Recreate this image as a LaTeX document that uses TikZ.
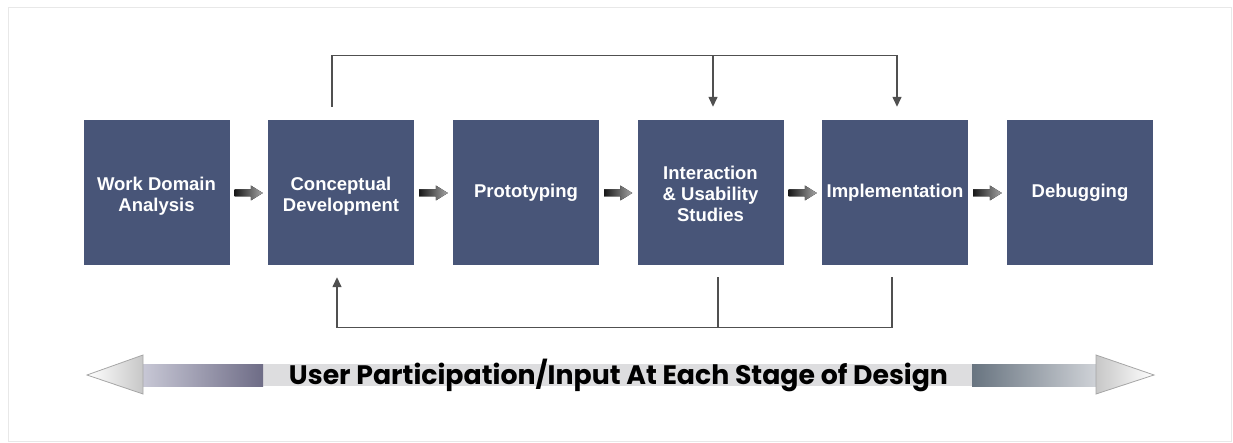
\documentclass[tikz,border=0pt]{standalone}
\usepackage{fontspec}
\setmainfont{Liberation Sans}
\newfontfamily\bigfont{Poppins}
\usetikzlibrary{arrows.meta,calc}
\definecolor{boxblue}{RGB}{72,85,120}
\definecolor{fbline}{RGB}{80,80,80}
\definecolor{bandgray}{RGB}{221,221,223}
\definecolor{leftlight}{RGB}{200,200,214}
\tikzset{
  stagebox/.style={fill=boxblue, draw=none, minimum width=146pt, minimum height=145pt,
    inner sep=0pt, text=white, align=center,
    font=\fontsize{18.5}{21}\selectfont\bfseries},
  fb/.style={draw=fbline, line width=1.4pt},
  fbarrow/.style={fb, -{Triangle[width=9pt,length=10pt]}},
  smallarrow/.style={left color=black!90, right color=black!35, draw=none},
}
\begin{document}
\begin{tikzpicture}[x=1pt,y=-1pt]
\useasboundingbox (0,0) rectangle (1233,443);
\draw[black!9, line width=1pt] (8,8) rectangle (1231,441);
% stage boxes
\node[stagebox] (b1) at (156.5,192.5) {\mbox{}\\[0pt]Work Domain\\Analysis};
\node[stagebox] (b2) at (341,192.5) {\mbox{}\\[0pt]Conceptual\\Development};
\node[stagebox] (b3) at (526,192.5) {Prototyping};
\node[stagebox] (b4) at (710.5,192.5) {\mbox{}\\[-4pt]Interaction\\\& Usability\\Studies};
\node[stagebox] (b5) at (895,192.5) {Implementation};
\node[stagebox] (b6) at (1080,192.5) {Debugging};
% small gradient arrows between boxes
\foreach \a/\b in {b1/b2,b2/b3,b3/b4,b4/b5,b5/b6}{
  \path ($(\a.east)+(5,0.5)$) coordinate (s) ($(\b.west)+(-5,0.5)$) coordinate (e);
  \fill[smallarrow] (s) ++(0,-3.5) -- ($(e)+(-12,-3.5)$) -- ($(e)+(-12,-7.5)$) -- (e)
     -- ($(e)+(-12,7.5)$) -- ($(e)+(-12,3.5)$) -- ($(s)+(0,3.5)$) -- cycle;
}
% feedback connectors
\coordinate (t0) at ($(b2.north)+(-9,-13)$);
\coordinate (tm) at ($(b4.north)+(2.5,-64)$);
\coordinate (t4) at ($(b4.north)+(2.5,-13)$);
\coordinate (t5) at ($(b5.north)+(2,-13)$);
\draw[fbarrow] (t0) |- (t5 |- tm) -- (t5);
\draw[fbarrow] (tm) -- (t4);
\coordinate (u4) at ($(b4.south)+(7.5,12)$);
\coordinate (u5) at ($(b5.south)+(-3,12)$);
\coordinate (u2) at ($(b2.south)+(-4,12)$);
\coordinate (ub) at ($(u5)+(0,50)$);
\draw[fbarrow] (u5) |- (u2 |- ub) -- (u2);
\draw[fb] (u4) -- (u4 |- ub);
% big double arrow
\fill[bandgray] (263,364) rectangle (972,386);
\shade[left color=leftlight, right color={rgb,255:red,110;green,108;blue,134}] (142,364) rectangle (263,386);
\shade[left color={rgb,255:red,104;green,116;blue,128}, right color={rgb,255:red,208;green,211;blue,216}] (972,364) rectangle (1097,386);
\shade[left color=white, right color=black!22, draw=black!35, line width=0.8pt]
  (87,375) -- (143,355) -- (143,394) -- cycle;
\shade[left color=black!22, right color=white, draw=black!35, line width=0.8pt]
  (1154,375) -- (1096,355) -- (1096,394) -- cycle;
\node[anchor=base, inner sep=0pt, font=\bigfont\bfseries\fontsize{26}{28}\selectfont] (lab) at (618.5,384)
  {\resizebox{659pt}{!}{User Participation/Input At Each Stage of Design}};
\end{tikzpicture}
\end{document}
